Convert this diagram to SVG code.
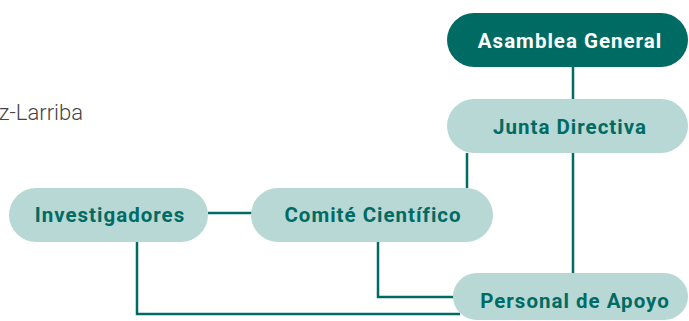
<svg xmlns="http://www.w3.org/2000/svg" width="689" height="321" viewBox="0 0 689 321">
<style>
.node{fill:#B8D8D6}
.dark{fill:#006B63}
.lbl{font-family:Roboto,"Liberation Sans",sans-serif;font-weight:700;font-size:20.5px;letter-spacing:1px;text-anchor:middle;fill:#006B63}
.lbl.w{fill:#FFFFFF}
.con{fill:none;stroke:#006B63;stroke-width:2.5}
.cap{font-family:Roboto,"Liberation Sans",sans-serif;font-weight:300;font-size:22px;fill:#444444}
</style>
<rect width="689" height="321" fill="#FFFFFF"/>
<text class="cap" x="83" y="120" text-anchor="end">z-Larriba</text>
<g id="connectors">
<line class="con" x1="573" y1="67" x2="573" y2="273"/>
<line class="con" x1="467" y1="153" x2="467" y2="188"/>
<line class="con" x1="208" y1="213" x2="252" y2="213"/>
<polyline class="con" points="378,242 378,297 455,297"/>
<polyline class="con" points="137,242 137,314 460,314"/>
</g>
<g id="asamblea">
<rect class="dark" x="447" y="13" width="241" height="54" rx="27"/>
<text class="lbl w" x="570" y="48">Asamblea General</text>
</g>
<g id="junta">
<rect class="node" x="447" y="99" width="241" height="54" rx="27"/>
<text class="lbl" x="570" y="134">Junta Directiva</text>
</g>
<g id="investigadores">
<rect class="node" x="9" y="188" width="199" height="54" rx="27"/>
<text class="lbl" x="110" y="222">Investigadores</text>
</g>
<g id="comite">
<rect class="node" x="251" y="188" width="242" height="54" rx="27"/>
<text class="lbl" x="373" y="222">Comité Científico</text>
</g>
<g id="personal">
<rect class="node" x="453" y="273" width="235" height="47" rx="24"/>
<text class="lbl" x="575" y="308">Personal de Apoyo</text>
</g>
</svg>
